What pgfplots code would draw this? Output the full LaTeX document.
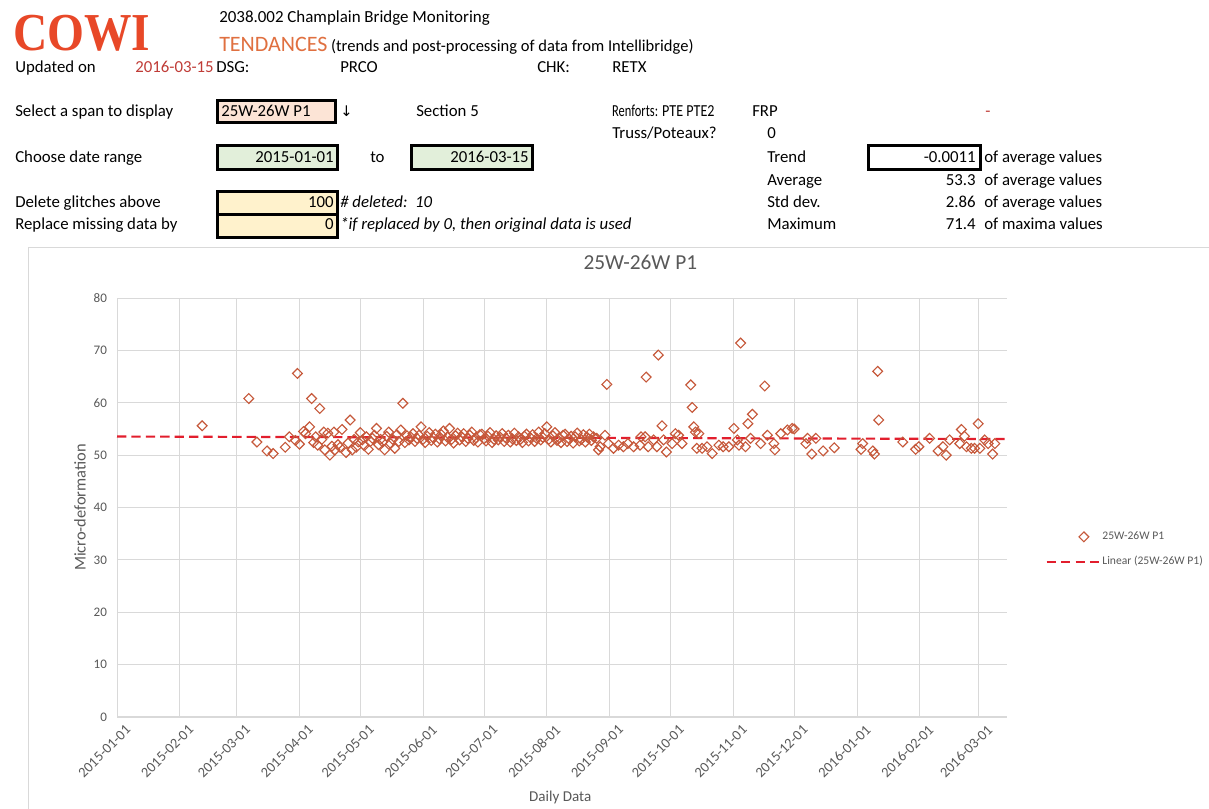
\documentclass[border=0pt]{standalone}
\usepackage{pgfplots}
\pgfplotsset{compat=1.18}
\usepackage{fontspec}
\setmainfont{Carlito}
\newfontfamily\logofont{Liberation Serif}
\newfontfamily\symfont{DejaVu Sans}
\definecolor{cowi}{RGB}{232,72,40}
\definecolor{tend}{RGB}{224,112,64}
\definecolor{datered}{RGB}{192,60,55}
\definecolor{peach}{RGB}{252,228,214}
\definecolor{lgreen}{RGB}{226,239,218}
\definecolor{lyellow}{RGB}{255,242,204}
\definecolor{txtgray}{RGB}{89,89,89}
\definecolor{gridgray}{RGB}{217,217,217}
\definecolor{mk}{RGB}{198,88,58}
\definecolor{trend}{RGB}{226,30,45}

\pgfplotsset{
  marklegend/.style={legend image code/.code={\draw[mark repeat=2,mark phase=2,##1] plot coordinates {(0cm,0cm) (0.98cm,0cm)};}},
  linelegend/.style={legend image code/.code={\draw[##1] (0cm,0cm) -- (1.37cm,0cm);}},
}

\pgfplotstableread{
d v
42 55.6
65 60.8
69 52.5
74 50.8
77 50.3
83 51.5
85 53.5
88 52.8
89 65.6
90 52.1
92 54.5
93 54.1
95 55.4
96 60.8
97 52.4
98 53.5
99 51.9
100 58.9
101 53.0
102 54.4
102.5 51.0
104 54.2
105 50.0
106 51.7
107 54.4
107.5 51.0
109 52.0
110 51.5
111 54.9
113 50.5
114 52.3
115 56.7
116 51.0
117 53.0
118 51.5
119 52.5
120 54.3
121 52.9
122 51.8
123 53.5
124 51.1
125 52.6
126 53.2
127 53.8
128 55.1
129 52.0
130 53.0
131 52.5
132 51.0
133 53.6
134 54.4
135 52.2
136 53.0
137 51.3
138 53.9
139 52.6
140 54.8
141 59.9
142 52.4
143 53.7
144 52.9
145 53.4
146 54.1
147 52.6
148 53.2
149 53.8
150 55.4
151 53.0
152 52.4
153 53.6
154 54.3
155 52.8
156 53.3
157 54.0
158 52.5
159 53.1
160 53.9
161 54.6
162 52.7
163 53.4
164 55.1
165 53.0
166 52.3
167 53.7
168 54.2
169 52.9
170 53.5
171 54.1
172 52.6
173 53.2
174 53.8
175 54.4
176 52.8
177 53.3
178 52.5
179 53.9
180 54.0
181 53.1
182 52.7
183 53.6
184 54.3
185 52.4
186 53.0
187 53.7
188 52.9
189 53.4
190 54.1
191 52.6
192 53.2
193 53.8
194 52.5
195 53.1
196 54.2
197 52.8
198 53.5
199 53.0
200 52.4
201 53.6
202 54.0
203 52.7
204 53.3
205 53.9
206 52.6
207 53.2
208 54.4
209 52.9
210 53.4
211 54.1
212 55.4
213 53.0
214 52.5
215 53.7
216 54.3
217 52.8
218 53.3
219 52.4
220 53.8
221 54.0
222 52.6
223 53.1
224 53.6
225 52.3
226 53.5
227 54.2
228 52.7
229 53.0
230 53.9
231 52.5
232 53.4
233 54.0
234 52.8
235 53.5
236.6 53.2
237.5 51.0
238.3 51.6
240.7 53.8
241.6 63.5
242.4 52.2
244.9 51.3
247.4 51.9
249.8 51.6
252 52.2
254.8 51.6
258 51.9
258.5 53.5
260.5 53.5
261 64.9
262 51.6
264.7 52.9
266.3 51.6
267 69.1
268.8 55.6
269.6 52.9
271 50.6
273.8 52.2
275.4 54.1
277 53.8
278.7 52.2
283 63.4
283.7 59.1
284.5 55.4
285.3 54.4
286 51.3
287 54.1
288.6 51.3
291 51.6
293.6 50.3
296.9 51.9
299 51.6
301.8 51.6
304.3 55.1
306 52.9
306.8 51.9
307.6 71.4
310 51.6
311.2 56.0
312.5 53.2
313.4 57.8
317.5 52.2
319.5 63.2
320.8 53.8
324 52.2
324.5 51.0
327.4 54.1
330.7 54.8
333 55.1
334 55.0
339.8 52.2
340.6 53.2
342.7 50.2
344.7 53.2
348.3 50.8
353.8 51.4
367 51.1
367.8 52.2
372.8 50.8
373.6 50.2
375.2 66.0
375.7 56.7
387.6 52.5
393.9 51.1
395.5 51.6
400.8 53.2
405 50.8
407.4 51.6
409 50.0
410.7 52.9
415.7 52.2
416.5 54.9
418 53.6
419 51.6
421.4 51.3
423 51.3
424.8 56.0
425.6 51.3
428 52.9
429.7 52.2
431.9 50.2
433 52.2
}\datatable

\begin{document}
\begin{tikzpicture}[x=0.75pt,y=0.75pt]
\useasboundingbox (0,0) rectangle (1209,809);
\clip (0,0) rectangle (1209,809);
\fill[white] (0,0) rectangle (1209,809);

% ---------- header ----------
\node[anchor=base west,inner sep=0,text=cowi,font=\logofont\bfseries\fontsize{40}{40}\selectfont,xscale=0.89] at (13,758) {COWI};
\node[anchor=base west,inner sep=0,font=\fontsize{12.7}{14}\selectfont] at (219,786) {2038.002 Champlain Bridge Monitoring};
\node[anchor=base west,inner sep=0,font=\fontsize{12.4}{14}\selectfont] at (219,757) {{\color{tend}\fontsize{16.5}{18}\selectfont TENDANCES} (trends and post-processing of data from Intellibridge)};

\begin{scope}[every node/.style={inner sep=0,font=\fontsize{12.6}{14}\selectfont}]
\node[anchor=base west] at (15,736) {Updated on};
\node[anchor=base east,text=datered] at (214,736) {2016-03-15};
\node[anchor=base west] at (216,736) {DSG:};
\node[anchor=base west] at (340,736) {PRCO};
\node[anchor=base west] at (537,736) {CHK:};
\node[anchor=base west] at (612,736) {RETX};

\draw[fill=peach,line width=2.25pt] (217,686) rectangle (335,708);
\node[anchor=base west] at (15,692) {Select a span to display};
\node[anchor=base west] at (221,692) {25W-26W P1};
\node[anchor=base west] at (340,692) {\symfont\fontsize{11}{12}\selectfont ↓};
\node[anchor=base west] at (416,692) {Section 5};
\node[anchor=base west,xscale=0.74] at (612,692) {Renforts:};
\node[anchor=base west,xscale=0.84] at (662,692) {PTE PTE2};
\node[anchor=base west] at (752,692) {FRP};
\node[anchor=base west,text=datered] at (985,692) {-};
\node[anchor=base west] at (612,670) {Truss/Poteaux?};
\node[anchor=base west] at (767,670) {0};

\draw[fill=lgreen,line width=2.25pt] (217,639) rectangle (337,663);
\draw[fill=lgreen,line width=2.25pt] (411,639) rectangle (532,663);
\draw[fill=white,line width=2.25pt] (868,639) rectangle (980,663);
\node[anchor=base west] at (15,646) {Choose date range};
\node[anchor=base east] at (334,646) {2015-01-01};
\node[anchor=base west] at (370,646) {to};
\node[anchor=base east] at (529,646) {2016-03-15};
\node[anchor=base west] at (767,646) {Trend};
\node[anchor=base east] at (976,646) {-0.0011};
\node[anchor=base west] at (984,646) {of average values};

\node[anchor=base west] at (767,623) {Average};
\node[anchor=base east] at (976,623) {53.3};
\node[anchor=base west] at (984,623) {of average values};

\draw[fill=lyellow,line width=2.25pt] (217,594) rectangle (337,617);
\draw[fill=lyellow,line width=2.25pt] (217,571) rectangle (337,594);
\node[anchor=base west] at (15,601) {Delete glitches above};
\node[anchor=base east] at (334,601) {100};
\node[anchor=base west] at (340,601) {\itshape \# deleted:\ \ 10};
\node[anchor=base west] at (767,601) {Std dev.};
\node[anchor=base east] at (976,601) {2.86};
\node[anchor=base west] at (984,601) {of average values};

\node[anchor=base west] at (15,579) {Replace missing data by};
\node[anchor=base east] at (334,579) {0};
\node[anchor=base west] at (340,579) {\itshape *if replaced by 0, then original data is used};
\node[anchor=base west] at (767,579) {Maximum};
\node[anchor=base east] at (976,579) {71.4};
\node[anchor=base west] at (984,579) {of maxima values};
\end{scope}

% chart frame
\draw[gridgray,line width=0.75pt] (28,-10) -- (28,561) -- (1220,561);

% ---------- chart ----------
\begin{axis}[
  at={(87.75pt,69pt)}, anchor=south west,
  scale only axis, width=667.5pt, height=314.25pt,
  xmin=0, xmax=439, ymin=0, ymax=80,
  axis x line*=bottom, axis y line*=left,
  x axis line style={draw=gridgray,line width=0.9pt},
  y axis line style={draw=none},
  xtick={0,31,59,90,120,151,181,212,243,273,304,334,365,396,425},
  xticklabels={2015-01-01,2015-02-01,2015-03-01,2015-04-01,2015-05-01,2015-06-01,2015-07-01,2015-08-01,2015-09-01,2015-10-01,2015-11-01,2015-12-01,2016-01-01,2016-02-01,2016-03-01},
  ytick={0,10,...,80},
  major tick length=0pt,
  grid=major,
  major grid style={draw=gridgray,line width=0.6pt},
  xticklabel style={rotate=45,anchor=east,font=\fontsize{10.8}{12}\selectfont,text=txtgray,inner sep=1pt,yshift=-11.5pt,xshift=1.5pt},
  yticklabel style={font=\fontsize{9.8}{11}\selectfont,text=txtgray,xshift=-4pt},
  /pgf/number format/assume math mode=true,
  title={25W-26W P1},
  title style={at={(axis description cs:0.588,1.067)},anchor=center,font=\fontsize{16}{18}\selectfont,text=txtgray},
  xlabel={Daily Data},
  xlabel style={at={(axis description cs:0.498,-0.191)},anchor=center,font=\fontsize{11.3}{13}\selectfont,text=txtgray},
  ylabel={Micro-deformation},
  ylabel style={at={(axis description cs:-0.0416,0.5)},anchor=center,rotate=0,font=\fontsize{12.3}{14}\selectfont,text=txtgray},
  legend style={at={(axis description cs:1.0416,0.4)},anchor=west,draw=none,fill=none,
    font=\fontsize{8.7}{10}\selectfont,text=txtgray,row sep=7pt,inner sep=1pt},
  legend cell align=left,
  clip=false,
]
\addplot[only marks,mark=square,mark size=2.6pt,mark options={rotate=45,draw=mk,fill=none,line width=0.85pt},marklegend]
  table[x=d,y=v]{\datatable};
\addlegendentry{25W-26W P1}
\addplot[trend,line width=1.6pt,dash pattern=on 7pt off 3.8pt,linelegend]
  coordinates {(0,53.55) (439,53.07)};
\addlegendentry{Linear (25W-26W P1)}
\end{axis}
\end{tikzpicture}
\end{document}
